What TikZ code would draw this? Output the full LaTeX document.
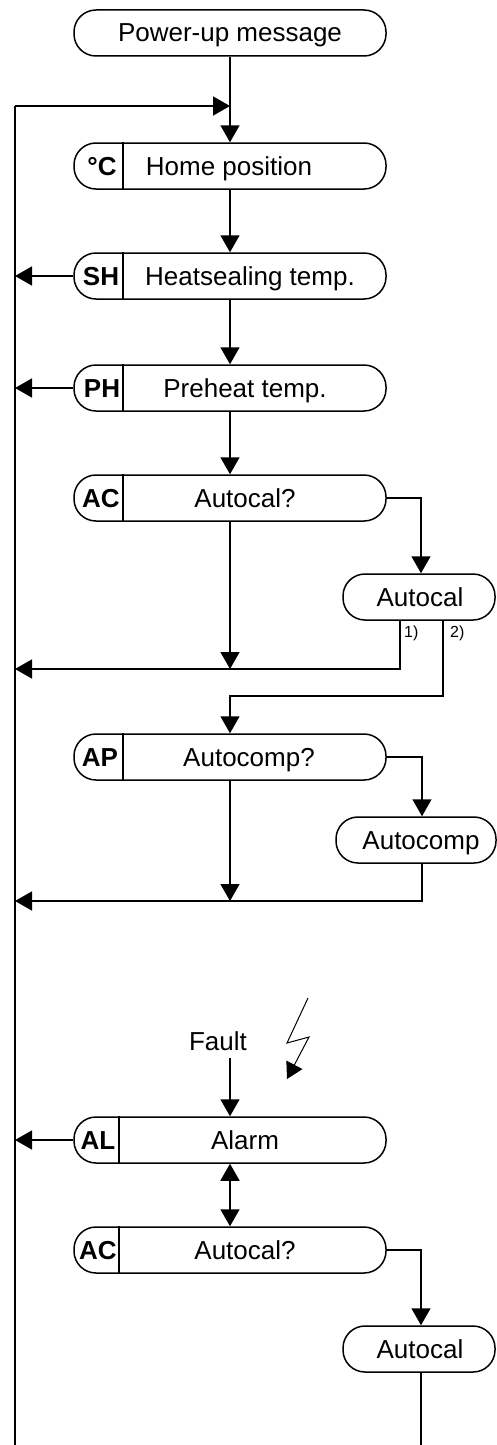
\documentclass[tikz,border=0pt]{standalone}
\usepackage{fontspec}
\setmainfont{Liberation Sans}
\usetikzlibrary{arrows.meta}
\begin{document}
\begin{tikzpicture}[x=1pt,y=-1pt,
  box/.style={draw, line width=1.5pt, rounded corners=22pt, minimum height=46pt, inner sep=0pt},
  txt/.style={font=\fontsize{26}{30}\selectfont, inner sep=0pt, anchor=base},
  lbl/.style={font=\fontsize{26}{30}\selectfont\bfseries, inner sep=0pt, anchor=base},
  small/.style={font=\fontsize{16}{18}\selectfont, inner sep=0pt, anchor=base west},
  ln/.style={line width=1.5pt},
  divider/.style={line width=1.8pt},
  arr/.style={ln, -{Triangle[length=17pt,width=19pt]}},
  darr/.style={ln, {Triangle[length=17pt,width=19pt]}-{Triangle[length=17pt,width=19pt]}},
  bolt/.style={line width=1pt, -{Triangle[length=16pt,width=18pt]}},
]
\useasboundingbox (0,0) rectangle (497,1445);

% boxes
\node[box, minimum width=312pt] (pu)   at (230,33)   {};
\node[box, minimum width=312pt] (home) at (230,166)  {};
\node[box, minimum width=312pt] (sh)   at (230,276)  {};
\node[box, minimum width=312pt] (ph)   at (230,388)  {};
\node[box, minimum width=312pt] (ac)   at (230,498)  {};
\node[box, minimum width=152pt] (acl)  at (419,597)  {};
\node[box, minimum width=312pt] (ap)   at (230,757)  {};
\node[box, minimum width=160pt] (acp)  at (416,840)  {};
\node[box, minimum width=312pt] (al)   at (230,1140) {};
\node[box, minimum width=312pt] (ac2)  at (230,1250) {};
\node[box, minimum width=152pt] (acl2) at (419,1349) {};

% dividers
\draw[divider] ([xshift=50pt]home.north west) -- ([xshift=50pt]home.south west);
\draw[divider] ([xshift=50pt]sh.north west) -- ([xshift=50pt]sh.south west);
\draw[divider] ([xshift=50pt]ph.north west) -- ([xshift=50pt]ph.south west);
\draw[divider] ([xshift=50pt]ac.north west) -- ([xshift=50pt]ac.south west);
\draw[divider] ([xshift=50pt]ap.north west) -- ([xshift=50pt]ap.south west);
\draw[divider] ([xshift=46pt]al.north west) -- ([xshift=46pt]al.south west);
\draw[divider] ([xshift=46pt]ac2.north west) -- ([xshift=46pt]ac2.south west);

% texts
\node[txt] (tpu)   at (230,42)   {Power-up message};
\node[txt] (thome) at (229,175)  {Home position};
\node[txt] (tsh)   at (250,285)  {Heatsealing temp.};
\node[txt] (tph)   at (245,397)  {Preheat temp.};
\node[txt] (tac)   at (245,507)  {Autocal?};
\node[txt] (tacl)  at (420,606)  {Autocal};
\node[txt] (tap)   at (249,766)  {Autocomp?};
\node[txt] (tacp)  at (421,849)  {Autocomp};
\node[txt] (tal)   at (245,1149) {Alarm};
\node[txt] (tac2)  at (245,1259) {Autocal?};
\node[txt] (tacl2) at (420,1358) {Autocal};
\node[txt] (fault) at (218,1050) {Fault};

\node[lbl] (lhome) at (102,175)  {°C};
\node[lbl] (lsh)   at (101,285)  {SH};
\node[lbl] (lph)   at (102,397)  {PH};
\node[lbl] (lac)   at (101,507)  {AC};
\node[lbl] (lap)   at (100,766)  {AP};
\node[lbl] (lal)   at (98,1149)  {AL};
\node[lbl] (lac2)  at (98,1259)  {AC};

\node[small] (n1) at (404,637) {1)};
\node[small] (n2) at (450,637) {2)};

% coordinates
\coordinate (L1) at (15,106);
\coordinate (L2) at (15,1445);
\coordinate (jn) at (230,106);
\coordinate (j1) at (230,669);
\coordinate (j2) at (230,901);
\coordinate (c0) at (421,498);
\coordinate (c1) at (400,669);
\coordinate (c2) at (443,696);
\coordinate (c3) at (422,757);
\coordinate (c4) at (422,901);
\coordinate (c5) at (421,1250);
\coordinate (c6) at (421,1445);
\coordinate (f0) at (230,1058);

% connectors
\draw[ln] (L2) -- (L1);
\draw[arr] (L1) -- (jn);
\draw[arr] (pu.south) -- (home.north);
\draw[arr] (home.south) -- (sh.north);
\draw[arr] (sh.west) -- (sh.west -| L1);
\draw[arr] (sh.south) -- (ph.north);
\draw[arr] (ph.west) -- (ph.west -| L1);
\draw[arr] (ph.south) -- (ac.north);
\draw[arr] (ac.east) -- (ac.east -| c0) -- (c0 |- acl.north);
\draw[arr] (ac.south) -- (j1);
\draw[arr] (acl.south -| c1) -- (c1) -- (c1 -| L1);
\draw[arr] (acl.south -| c2) -- (c2) -- (c2 -| ap.north) -- (ap.north);
\draw[arr] (ap.east) -- (ap.east -| c3) -- (c3 |- acp.north);
\draw[arr] (ap.south) -- (j2);
\draw[arr] (c3 |- acp.south) -- (c4) -- (c4 -| L1);
\draw[arr] (f0) -- (al.north);
\draw[arr] (al.west) -- (al.west -| L1);
\draw[darr] (al.south) -- (ac2.north);
\draw[arr] (ac2.east) -- (ac2.east -| c5) -- (c5 |- acl2.north);
\draw[ln] (acl2.south -| c6) -- (c6);

% lightning
\draw[bolt] (308,998) -- (287,1043) -- (309,1037) -- (287,1079);
\end{tikzpicture}
\end{document}
